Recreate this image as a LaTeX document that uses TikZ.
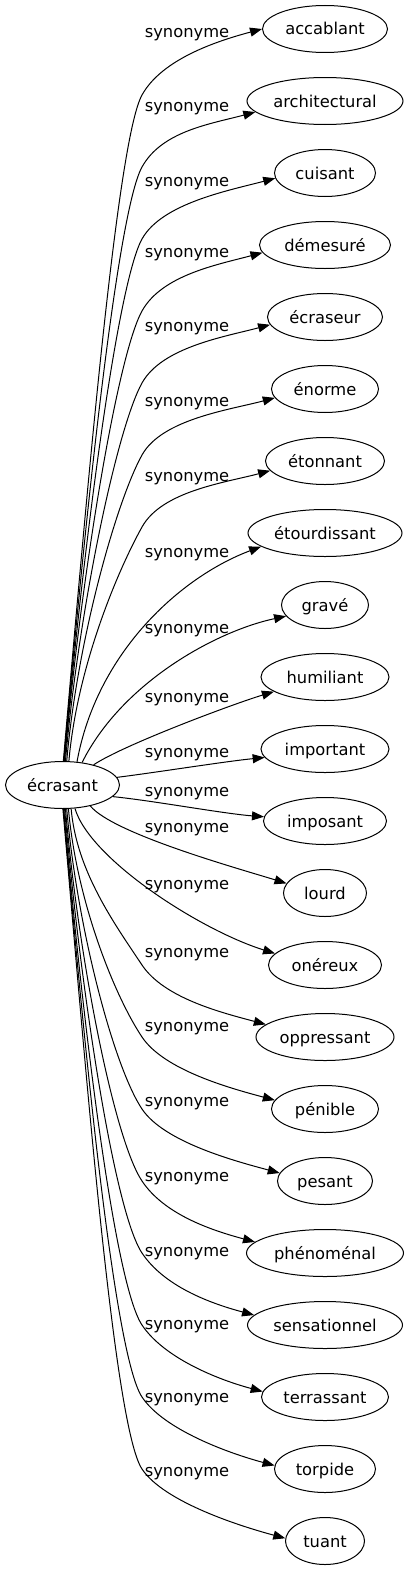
\documentclass[tikz,border=0pt]{standalone}
\usepackage{fontspec}
\setmainfont{DejaVu Sans}
\usetikzlibrary{shapes.geometric,arrows.meta}
\newcommand\upedge[4]{\draw[edge] (root.#3) .. controls +({0.035*(695-#2)},{-0.4*(695-#2)}) and +(-25,45) .. (142,{#2+66}) .. controls +(20,-36) and +(-45,12) .. (#1.#4);}
\newcommand\downedge[4]{\draw[edge] (root.#3) .. controls +({0.035*(#2-881)},{0.4*(#2-881)}) and +(-28,-42) .. (142,{#2-72}) .. controls +(22,33) and +(-45,-12) .. (#1.#4);}
\begin{document}
\begin{tikzpicture}[x=1pt,y=-1pt,
  word/.style={draw, ellipse, line width=1pt, inner sep=0pt, minimum height=47pt,
    text height=12pt, text depth=0pt, font=\fontsize{16.3}{18}\selectfont},
  lbl/.style={anchor=base, inner sep=0pt, font=\fontsize{16.3}{18}\selectfont},
  edge/.style={line width=1pt, -{Triangle[length=12pt,width=9pt]}}]
\useasboundingbox (0,0) rectangle (410,1571);
\node[word, minimum width=114pt] (root) at (62.5,785) {écrasant};
\node[word, minimum width=125pt] (accablant) at (325,29) {accablant};
\node[word, minimum width=156pt] (architectural) at (325,101) {architectural};
\node[word, minimum width=101pt] (cuisant) at (325,173) {cuisant};
\node[word, minimum width=131pt] (demesure) at (325,245) {démesuré};
\node[word, minimum width=115pt] (ecraseur) at (325,317) {écraseur};
\node[word, minimum width=107pt] (enorme) at (325,389) {énorme};
\node[word, minimum width=119pt] (etonnant) at (325,461) {étonnant};
\node[word, minimum width=154pt] (etourdissant) at (325,533) {étourdissant};
\node[word, minimum width=87pt] (grave) at (325,605) {gravé};
\node[word, minimum width=128pt] (humiliant) at (325,677) {humiliant};
\node[word, minimum width=128pt] (important) at (325,749) {important};
\node[word, minimum width=123pt] (imposant) at (325,821) {imposant};
\node[word, minimum width=83pt] (lourd) at (325,893) {lourd};
\node[word, minimum width=113pt] (onereux) at (325,965) {onéreux};
\node[word, minimum width=138pt] (oppressant) at (325,1037) {oppressant};
\node[word, minimum width=107pt] (penible) at (325,1109) {pénible};
\node[word, minimum width=95pt] (pesant) at (325,1181) {pesant};
\node[word, minimum width=157pt] (phenomenal) at (325,1253) {phénoménal};
\node[word, minimum width=155pt] (sensationnel) at (325,1325) {sensationnel};
\node[word, minimum width=127pt] (terrassant) at (325,1397) {terrassant};
\node[word, minimum width=101pt] (torpide) at (325,1469) {torpide};
\node[word, minimum width=79pt] (tuant) at (325,1541) {tuant};
% labels
\foreach \n/\y in {1/33,2/107,3/182,4/253,5/327,6/402,7/477,8/553,9/629,10/698,11/753,
  12/792,13/828,14/885,15/953,16/1027,17/1102,18/1177,19/1252,20/1325,21/1398,22/1472}
  \node[lbl] (l\n) at (187,\y+4.5) {synonyme};
% far upward edges
\upedge{accablant}{29}{88}{180}
\upedge{architectural}{101}{87}{189}
\upedge{cuisant}{173}{86}{186}
\upedge{demesure}{245}{85}{187}
\upedge{ecraseur}{317}{83}{188}
\upedge{enorme}{389}{80}{190}
\upedge{etonnant}{461}{75}{190}
% near edges
\draw[edge] (root.58) .. controls +(20,-110) and +(-80,30) .. (etourdissant.192);
\draw[edge] (root.49) .. controls +(40,-80) and +(-70,15) .. (grave.196);
\draw[edge] (root.33) .. controls +(30,-20) and +(-40,12) .. (humiliant.196);
\draw[edge] (root.8) .. controls +(40,-5) and +(-40,4) .. (important.188);
\draw[edge] (root.347) .. controls +(40,4) and +(-40,-3) .. (imposant.176);
\draw[edge] (root.323) .. controls +(23,28) and +(-45,-14) .. (lourd.166);
\draw[edge] (root.298) .. controls +(15,51) and +(-74,-23) .. (onereux.167);
% far downward edges
\downedge{oppressant}{1037}{290}{168}
\downedge{penible}{1109}{284}{170}
\downedge{pesant}{1181}{280}{170}
\downedge{phenomenal}{1253}{277}{171}
\downedge{sensationnel}{1325}{275}{172}
\downedge{terrassant}{1397}{273}{175}
\downedge{torpide}{1469}{272}{176}
\downedge{tuant}{1541}{271}{176}
\end{tikzpicture}
\end{document}
